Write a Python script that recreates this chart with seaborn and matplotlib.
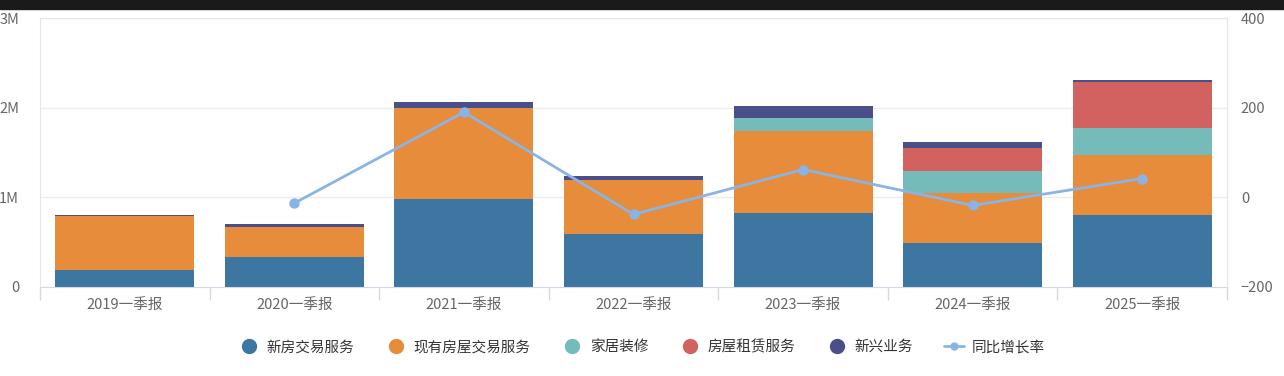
import numpy as np
import pandas as pd
import seaborn as sns
import matplotlib.pyplot as plt
from matplotlib.lines import Line2D
from matplotlib.patches import Rectangle

# data (revenue in millions, growth in %)
periods = ['2019一季报', '2020一季报', '2021一季报', '2022一季报', '2023一季报', '2024一季报', '2025一季报']
new_house = [0.19, 0.33, 0.98, 0.59, 0.83, 0.49, 0.80]
existing_house = [0.60, 0.34, 1.02, 0.60, 0.91, 0.56, 0.67]
home_deco = [0.0, 0.0, 0.0, 0.0, 0.14, 0.24, 0.30]
rental = [0.0, 0.0, 0.0, 0.0, 0.0, 0.26, 0.52]
emerging = [0.01, 0.03, 0.06, 0.05, 0.14, 0.07, 0.02]
growth = [np.nan, -13, 190, -38, 62, -18, 42]

series_names = ['新房交易服务', '现有房屋交易服务', '家居装修', '房屋租赁服务', '新兴业务']
colors = ['#3d76a0', '#e68c3a', '#75bbba', '#d1625f', '#4a4f8a']
line_color = '#8ab4e6'

sns.set_style('white')
plt.rcParams['font.family'] = ['Noto Sans CJK SC', 'DejaVu Sans']

df = pd.DataFrame({'period': periods, '新房交易服务': new_house, '现有房屋交易服务': existing_house,
                   '家居装修': home_deco, '房屋租赁服务': rental, '新兴业务': emerging, 'growth': growth})
cum = df[series_names].cumsum(axis=1)

fig = plt.figure(figsize=(12.84, 3.76), dpi=100)
fig.patches.append(Rectangle((0, 1 - 9 / 376), 1, 9 / 376, transform=fig.transFigure,
                             color='#1a1a1a', zorder=0))
ax = fig.add_axes([40 / 1284, 1 - 287 / 376, 1187 / 1284, 269 / 376])

# overlay cumulative totals, tallest first, so each layer shows as a stacked segment
for name, c in reversed(list(zip(series_names, colors))):
    sns.barplot(x=df['period'], y=cum[name], color=c, saturation=1, width=0.82,
                edgecolor='none', ax=ax, order=periods)

ax.set_ylim(0, 3)
ax.set_xlim(-0.5, 6.5)
ax.set_yticks([0, 1, 2, 3])
ax.set_yticklabels(['0', '1M', '2M', '3M'])
ax.set_xlabel('')
ax.set_ylabel('')
ax.grid(axis='y', color='#ececf0', linewidth=1)
ax.set_axisbelow(True)
ax.tick_params(axis='y', length=0, pad=15, labelsize=10.5, labelcolor='#666666')
ax.tick_params(axis='x', which='major', length=0, pad=8, labelsize=10.5, labelcolor='#666666')
ax.set_xticks(np.arange(-0.5, 7, 1), minor=True)
ax.tick_params(axis='x', which='minor', bottom=True, length=9, color='#d5d9e4', width=1)
for s in ['left', 'right', 'top']:
    ax.spines[s].set_color('#e2e5ec')
ax.spines['bottom'].set_color('#d5d9e4')

ax2 = ax.twinx()
sns.pointplot(x=df['period'], y=df['growth'], order=periods, color=line_color, ax=ax2,
              markers='o', markersize=6, linewidth=2)
ax2.set_xlim(-0.5, 6.5)
ax2.set_ylim(-200, 400)
ax2.set_yticks([-200, 0, 200, 400])
ax2.set_ylabel('')
ax2.set_xlabel('')
ax2.tick_params(axis='y', length=0, pad=10, labelsize=10.5, labelcolor='#666666')
for s in ax2.spines.values():
    s.set_visible(False)

handles = [Line2D([], [], marker='o', linestyle='none', markersize=10, color=c) for c in colors]
handles.append(Line2D([], [], marker='o', color=line_color, markersize=5, linewidth=2))
fig.legend(handles, series_names + ['同比增长率'], loc='center', bbox_to_anchor=(0.5, 1 - 347 / 376),
           ncol=6, frameon=False, prop={'size': 10.5, 'weight': 'medium'}, handlelength=1.4,
           columnspacing=2.15, handletextpad=0.5, labelcolor='#333333')

fig.savefig('out.png', dpi=100)
